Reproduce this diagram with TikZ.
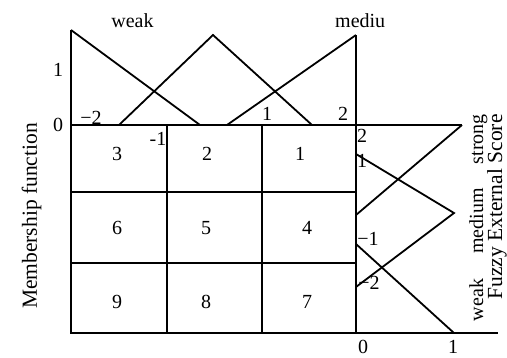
\documentclass[tikz,border=0pt]{standalone}
\usepackage{fontspec}
\setmainfont{Liberation Serif}

\begin{document}
\begin{tikzpicture}[x=1pt,y=-1pt,
  line/.style={line width=1.8pt},
  lbl/.style={font=\fontsize{20}{24}\selectfont,inner sep=0pt},
  vlbl/.style={lbl,rotate=90,anchor=base},
  title/.style={vlbl,font=\fontsize{21.5}{26}\selectfont}]

  \useasboundingbox (0,0) rectangle (507,357);

  % axes and grid
  \draw[line] (71,30) -- (71,333) -- (498,333);
  \draw[line] (71,125) -- (462,125);
  \draw[line] (356,35) -- (356,333);
  \draw[line] (167,125) -- (167,333);
  \draw[line] (262,125) -- (262,333);
  \draw[line] (71,192) -- (356,192);
  \draw[line] (71,263) -- (356,263);

  % top membership functions
  \draw[line] (71,30) -- (200,125);
  \draw[line] (119,125) -- (213,35) -- (312,125);
  \draw[line] (227,125) -- (356,35);

  % right membership functions
  \draw[line] (462,125) -- (356,215);
  \draw[line] (356,154) -- (454,213) -- (356,287);
  \draw[line] (356,244) -- (454,333);

  % top labels
  \node[lbl,anchor=base] (weaktop) at (132.5,27) {weak};
  \node[lbl,anchor=base west] (medtop) at (335,27) {mediu};
  \node[lbl] (onel) at (58,70) {1};
  \node[lbl] (zerol) at (58,125) {0};
  \node[lbl] (mtwotop) at (91,118) {−2};
  \node[lbl] (monetop) at (158,139) {-1};
  \node[lbl] (onetop) at (267,114) {1};
  \node[lbl] (twotop) at (343,114) {2};

  % cell numbers
  \node[lbl] (c3) at (117,154) {3};
  \node[lbl] (c2) at (207,154) {2};
  \node[lbl] (c1) at (300,154) {1};
  \node[lbl] (c6) at (117,228) {6};
  \node[lbl] (c5) at (206,228) {5};
  \node[lbl] (c4) at (307,228) {4};
  \node[lbl] (c9) at (117,302) {9};
  \node[lbl] (c8) at (206,302) {8};
  \node[lbl] (c7) at (307,302) {7};

  % right labels
  \node[lbl] (tworight) at (362,136) {2};
  \node[lbl] (oneright) at (362,161) {1};
  \node[lbl] (monerght) at (368,239) {−1};
  \node[lbl] (mtworght) at (369,283) {−2};
  \node[lbl] (zerobot) at (363,347) {0};
  \node[lbl] (onebot) at (453,347) {1};

  \node[vlbl] (strongr) at (483,139) {strong};
  \node[vlbl] (mediumr) at (483,221) {medium};
  \node[vlbl] (weakr) at (483,300) {weak};
  \node[title] (fes) at (502,207) {Fuzzy External Score};
  \node[title] (memb) at (37,216) {Membership function};
\end{tikzpicture}
\end{document}
